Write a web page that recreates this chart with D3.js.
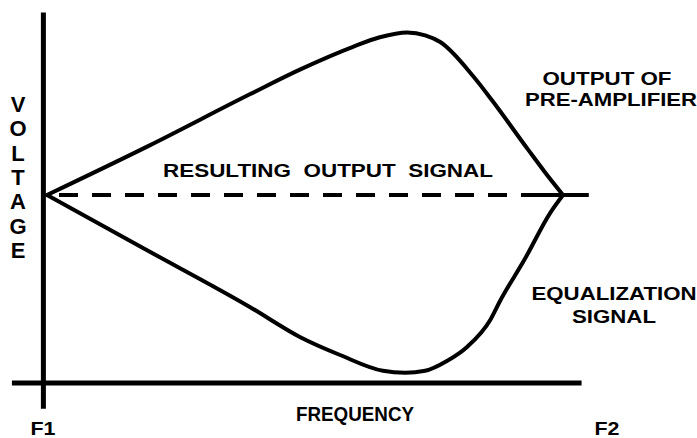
<!DOCTYPE html>
<html>
<head>
<meta charset="utf-8">
<script src="https://cdn.jsdelivr.net/npm/d3@7"></script>
<style>
  html, body { margin: 0; padding: 0; background: #fff; }
  svg { display: block; }
  text { font-family: "Liberation Sans", Arial, sans-serif; font-weight: bold; fill: #000; }
</style>
</head>
<body>
<svg id="chart" width="697" height="438"></svg>
<script>
// Frequency runs from F1 (0) to F2 (100); voltage is relative to the flat output level (0).
const preAmpFreq = [0, 19.8, 39.3, 49, 59.3, 64.5, 69.8, 73.3, 76.2, 82.6, 86.2, 93.2, 96.5, 100];
const preAmpVolt = [0, 0.26, 0.53, 0.66, 0.78, 0.83, 0.855, 0.84, 0.805, 0.625, 0.5, 0.24, 0.12, 0];

const eqFreq = [0, 18.6, 39.3, 49, 56.8, 65.1, 69.4, 73.3, 77.5, 81.4, 85.9, 87.8, 92.6, 97.5, 100];
const eqVolt = [0, -0.279, -0.589, -0.747, -0.842, -0.925, -0.935, -0.925, -0.874, -0.8, -0.658, -0.558, -0.337, -0.095, 0];

const resultFreq = [0, 105];
const resultVolt = [0, 0];

const axisLabels = { x: "FREQUENCY", y: "VOLTAGE", start: "F1", end: "F2" };
const curveLabels = {
  result: "RESULTING  OUTPUT  SIGNAL",
  preAmp: ["OUTPUT OF", "PRE-AMPLIFIER"],
  eq: ["EQUALIZATION", "SIGNAL"]
};

const svg = d3.select("#chart");

const x = d3.scaleLinear().domain([0, 100]).range([47, 563]);
const y = d3.scaleLinear().domain([-1, 1]).range([385, 5]);

// Axes: a bare vertical voltage line and a horizontal frequency line
const xAxisY = y(-0.99);
const yAxisX = x(-0.7);
svg.append("line")
  .attr("x1", yAxisX).attr("x2", yAxisX)
  .attr("y1", y(0.96)).attr("y2", y(-1.125))
  .attr("stroke", "#000").attr("stroke-width", 5);
svg.append("line")
  .attr("x1", x(-6.8)).attr("x2", x(103.6))
  .attr("y1", xAxisY).attr("y2", xAxisY)
  .attr("stroke", "#000").attr("stroke-width", 5);

const line = d3.line()
  .x(d => x(d[0]))
  .y(d => y(d[1]))
  .curve(d3.curveMonotoneX);

const preAmp = d3.zip(preAmpFreq, preAmpVolt);
const eq = d3.zip(eqFreq, eqVolt);
const result = d3.zip(resultFreq, resultVolt);

// Flat resulting output (dashed up to F2, then solid past it)
const flat = d3.line().x(d => x(d[0])).y(d => y(d[1]));
svg.append("path")
  .datum(result.map(d => [Math.min(d[0], 100), d[1]]))
  .attr("d", flat)
  .attr("fill", "none").attr("stroke", "#000").attr("stroke-width", 4)
  .attr("stroke-dasharray", "19,14").attr("stroke-dashoffset", -12);
svg.append("path")
  .datum([[95, 0], [105, 0]])
  .attr("d", flat)
  .attr("fill", "none").attr("stroke", "#000").attr("stroke-width", 4);

svg.append("path")
  .datum(preAmp)
  .attr("d", line)
  .attr("fill", "none").attr("stroke", "#000").attr("stroke-width", 4)
  .attr("stroke-linejoin", "round").attr("stroke-linecap", "round");

svg.append("path")
  .datum(eq)
  .attr("d", line)
  .attr("fill", "none").attr("stroke", "#000").attr("stroke-width", 4)
  .attr("stroke-linejoin", "round").attr("stroke-linecap", "round");

// Text labels, each fitted to a set width
function label(txt, cx, baseline, width, size) {
  return svg.append("text")
    .attr("x", cx).attr("y", baseline)
    .attr("text-anchor", "middle")
    .attr("font-size", size)
    .attr("textLength", width)
    .attr("lengthAdjust", "spacingAndGlyphs")
    .style("white-space", "pre")
    .text(txt);
}

label(curveLabels.result, 328, 177, 330, 19);
label(axisLabels.x, 355, 421, 118, 21);
label(axisLabels.start, 43, 435, 25, 19);
label(axisLabels.end, 607, 435, 25, 19);
label(curveLabels.preAmp[0], 607, 85, 129, 19);
label(curveLabels.preAmp[1], 611, 106, 172, 19);
label(curveLabels.eq[0], 614, 300, 165, 19);
label(curveLabels.eq[1], 614, 323, 84, 19);

// Vertical axis title, one letter per row
const letters = axisLabels.y.split("");
svg.selectAll("text.vl")
  .data(letters)
  .join("text")
  .attr("class", "vl")
  .attr("x", 18)
  .attr("y", (d, i) => 112 + i * 24.3)
  .attr("text-anchor", "middle")
  .attr("font-size", 22)
  .text(d => d);
</script>
</body>
</html>
